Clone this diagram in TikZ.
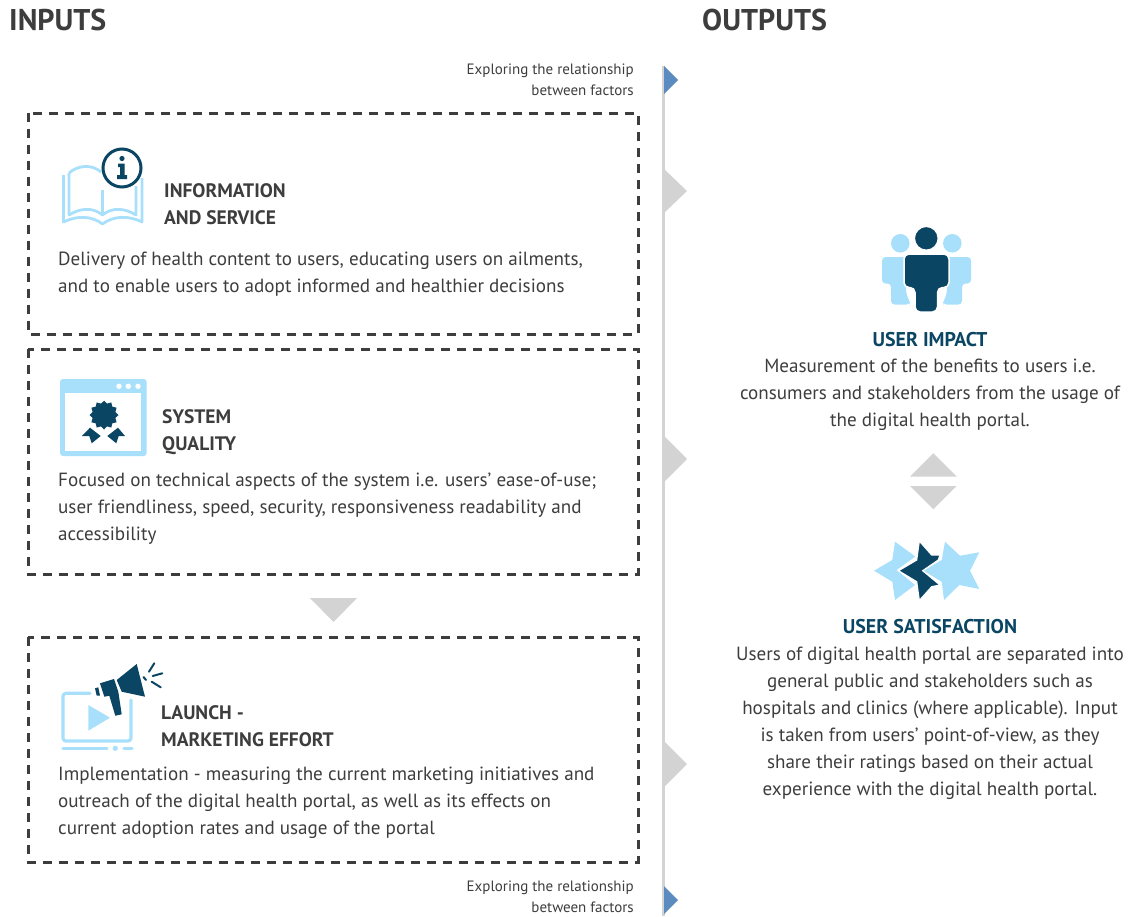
\documentclass[tikz,border=0pt]{standalone}
\usepackage{fontspec}
\setmainfont{PT Sans}
\definecolor{dk}{HTML}{0A4563}
\definecolor{lt}{HTML}{A8E0FB}
\definecolor{tx}{HTML}{3D3D3D}
\definecolor{gy}{HTML}{D3D3D3}
\definecolor{bl}{HTML}{5B8BBF}
\tikzset{
 dbox/.style={draw=tx,line width=3pt,dash pattern=on 9pt off 7pt},
 body/.style={inner sep=0pt,anchor=north west,align=left,text=tx,font=\fontsize{19.1}{27}\selectfont},
 bodyc/.style={inner sep=0pt,anchor=north,align=center,text=tx,font=\fontsize{19.1}{27}\selectfont},
 head/.style={inner sep=0pt,anchor=north west,align=left,text=tx,font=\fontsize{19.5}{27}\selectfont\bfseries},
 headc/.style={inner sep=0pt,anchor=north,align=center,text=dk,font=\fontsize{19.9}{27}\selectfont\bfseries},
 title/.style={inner sep=0pt,anchor=north west,text=tx,font=\fontsize{30}{30}\selectfont\bfseries},
 small/.style={inner sep=0pt,anchor=north east,align=right,text=tx,font=\fontsize{15}{21}\selectfont},
 ltline/.style={draw=lt,line width=3.2pt,line join=round,line cap=round},
 ltthin/.style={draw=lt,line width=2.8pt,line join=round},
}
\begin{document}
\begin{tikzpicture}[x=1pt,y=-1pt]
\useasboundingbox (0,0) rectangle (1130,916);
% titles
\node[title] (tin) at (9,9) {INPUTS};
\node[title] (tout) at (702,9) {OUTPUTS};
% timeline
\fill[gy] (662,66) rectangle (665,916);
\fill[bl] (664,66) -- (678,80) -- (664,94) -- cycle;
\fill[bl] (664,886) -- (678,900) -- (664,914) -- cycle;
\fill[gy] (663,168) -- (687,191) -- (663,214) -- cycle;
\fill[gy] (663,435) -- (687,459) -- (663,483) -- cycle;
\fill[gy] (663,740) -- (687,764) -- (663,788) -- cycle;
\node[small] (e1) at (634,64) {Exploring the relationship\\between factors};
\node[small] (e2) at (634,881) {Exploring the relationship\\between factors};
% boxes
\draw[dbox] (28,113) rectangle (638,334);
\draw[dbox] (28,349) rectangle (638,574);
\draw[dbox] (28,637) rectangle (638,862);
\fill[gy] (310,598) -- (357,598) -- (333.5,622) -- cycle;
% book icon
\draw[ltthin] (63.5,175) -- (63.5,222) .. controls (78,215) and (92,216) .. (102.5,224) .. controls (113,216) and (128,215) .. (142,222) -- (142,178);
\draw[ltthin] (69,173) .. controls (78,165) and (92,164) .. (101,172);
\draw[ltthin] (69,173) -- (69,215) .. controls (80,208) and (93,207) .. (102.5,215) .. controls (112,207) and (125,208) .. (136,215) -- (136,186);
\draw[ltthin] (102.5,190) -- (102.5,215);
\draw[dk,line width=3pt,fill=white] (122,168) circle (19);
\fill[dk] (122,158.5) circle (2.6);
\fill[dk] (118,163.5) -- (124.5,163.5) -- (124.5,175) -- (127,175) -- (127,179) -- (117,179) -- (117,175) -- (120,175) -- (120,167) -- (118,167) -- cycle;
\node[head] (h1) at (164,183) {INFORMATION\\AND SERVICE};
\node[body] (b1) at (58,252) {Delivery of health content to users, educating users on ailments,\\and to enable users to adopt informed and healthier decisions};
% window icon
\fill[lt,rounded corners=3pt] (60,379) rectangle (146.7,456);
\fill[white] (65.3,393.3) rectangle (141.3,450.7);
\fill[white] (119,386.3) circle (2.7) (128.3,386.3) circle (2.7) (138,386.3) circle (2.7);
\fill[dk] (104,401) \foreach \a in {0,30,...,330} {-- ({104+14.5*sin(\a)},{415-14.5*cos(\a)}) -- ({104+11.8*sin(\a+15)},{415-11.8*cos(\a+15)})} -- cycle;
\fill[dk] (90,427.7) -- (100.7,436) -- (91.7,443.3) -- (89.3,436) -- (82,436) -- cycle;
\fill[dk] (118,427.7) -- (107.3,436) -- (116.3,443.3) -- (118.7,436) -- (125,436) -- cycle;
\node[head] (h2) at (162,409) {SYSTEM\\QUALITY};
\node[body] (b2) at (58,473) {Focused on technical aspects of the system i.e. users' ease-of-use;\\user friendliness, speed, security, responsiveness readability and\\accessibility};
% megaphone icon
\draw[ltline,rounded corners=3pt] (90,693.3) -- (63,693.3) -- (63,741) -- (131,741) -- (131,700);
\draw[ltline] (63,748.3) -- (107,748.3);
\fill[lt] (115.3,748.3) circle (2.6);
\draw[ltline] (124,748.3) -- (132,748.3);
\fill[lt] (88.3,705) -- (110,717.7) -- (88.3,730.7) -- cycle;
\fill[dk] (116.7,680) -- (136.7,664) -- (145,696.7) -- (121.7,691.7) -- cycle;
\fill[dk] (100,683.3) -- (114,679) -- (118.3,691.7) -- (121.7,714.3) -- (115.3,715.7) -- (109.3,695.7) -- (104.3,696.7) -- cycle;
\fill[dk] (95,688.3) -- (98.3,687.3) -- (100,695.7) -- (96.7,695.7) -- cycle;
\draw[dk,line width=2pt,line cap=round] (149,671.7) -- (154.3,663.3) (152.7,676) -- (162.3,673.3) (151.7,681.7) -- (160.7,687.3) (143.5,677) -- (146,680);
\node[head] (h3) at (161,705) {LAUNCH -\\MARKETING EFFORT};
\node[body] (b3) at (58,767) {Implementation - measuring the current marketing initiatives and\\outreach of the digital health portal, as well as its effects on\\current adoption rates and usage of the portal};
% people icon
\fill[lt] (900.3,243.3) circle (9.3) (952.3,243.3) circle (9.3);
\fill[lt,rounded corners=3.5pt] (882,257) -- (906,257) -- (906,293) -- (910,303) -- (910,304.5) -- (891,304.5) -- (891,283.5) -- (882,283.5) -- cycle;
\fill[lt,rounded corners=3.5pt] (971,257) -- (947,257) -- (947,293) -- (943,303) -- (943,304.5) -- (962,304.5) -- (962,283.5) -- (971,283.5) -- cycle;
\fill[dk,draw=white,line width=1.5pt] (926.3,238.3) circle (12);
\fill[dk,draw=white,line width=1.5pt,rounded corners=5pt] (904,254) -- (949,254) -- (949,287.5) -- (937.5,287.5) -- (937.5,312) -- (915,312) -- (915,287.5) -- (904,287.5) -- cycle;
\node[headc] (h4) at (930,332) {USER IMPACT};
\node[bodyc] (b4) at (930,359) {Measurement of the benefits to users i.e.\\consumers and stakeholders from the usage of\\the digital health portal.};
% up/down triangles
\fill[gy] (933.3,453.3) -- (956.7,476.7) -- (910,476.7) -- cycle;
\fill[gy] (910,486) -- (956.7,486) -- (933.3,509.3) -- cycle;
% stars
\fill[lt] (895,541.7) -- (913.3,555) -- (915,556.7) -- (896.7,570) -- (915,585) -- (895,600) -- (892.3,581.7) -- (874,570.7) -- (892.3,560) -- cycle;
\fill[lt] (945,541.7) -- (960,555.7) -- (979.3,552.3) -- (970,570.7) -- (979.3,589) -- (959.3,585) -- (944,600) -- (941.7,581.7) -- (923.3,570.7) -- (941.7,560) -- cycle;
\fill[dk,draw=white,line width=1.2pt] (919.3,541) -- (931.7,555) -- (940,555) -- (938.3,560) -- (922.7,570.7) -- (940,585) -- (931.7,586.7) -- (919.3,600.5) -- (916.7,581.7) -- (898.5,570.7) -- (916.7,560) -- cycle;
\node[headc] (h5) at (930,619) {USER SATISFACTION};
\node[bodyc] (b5) at (930,647) {Users of digital health portal are separated into\\general public and stakeholders such as\\hospitals and clinics (where applicable). Input\\is taken from users' point-of-view, as they\\share their ratings based on their actual\\experience with the digital health portal.};
\end{tikzpicture}
\end{document}
